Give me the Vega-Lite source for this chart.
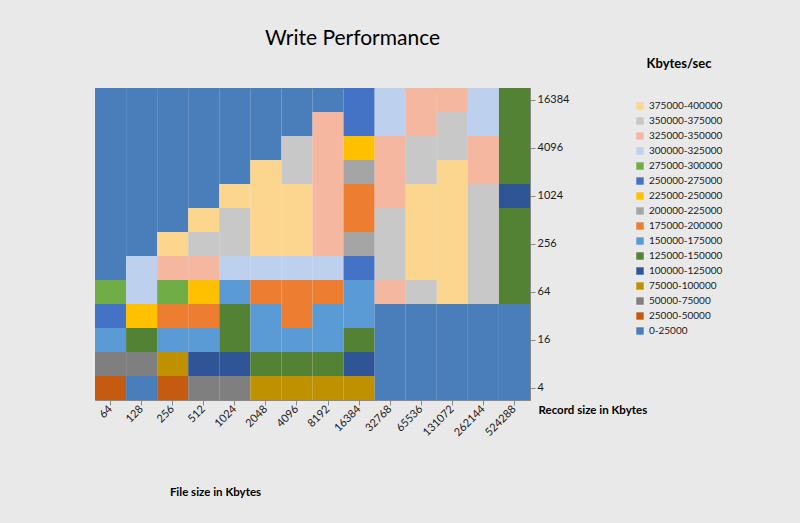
{
  "$schema": "https://vega.github.io/schema/vega-lite/v6.json",
  "autosize": "none",
  "width": 435,
  "height": 312,
  "padding": {"left": 95, "top": 88, "right": 270, "bottom": 123},
  "background": "#e9e9e9",
  "title": {
    "text": "Write Performance",
    "fontSize": 21,
    "fontWeight": "normal",
    "font": "Lato",
    "color": "#000000",
    "dx": 40,
    "offset": 3
  },
  "data": {
    "values": [
      {"file": 64, "rec": 4, "kbs": 25000}, {"file": 128, "rec": 4, "kbs": 8000}, {"file": 256, "rec": 4, "kbs": 45000}, {"file": 512, "rec": 4, "kbs": 60000}, {"file": 1024, "rec": 4, "kbs": 70000}, {"file": 2048, "rec": 4, "kbs": 80000}, {"file": 4096, "rec": 4, "kbs": 85000}, {"file": 8192, "rec": 4, "kbs": 90000}, {"file": 16384, "rec": 4, "kbs": 95000}, {"file": 32768, "rec": 4, "kbs": 0}, {"file": 65536, "rec": 4, "kbs": 0}, {"file": 131072, "rec": 4, "kbs": 0}, {"file": 262144, "rec": 4, "kbs": 0}, {"file": 524288, "rec": 4, "kbs": 0},
      {"file": 64, "rec": 8, "kbs": 60000}, {"file": 128, "rec": 8, "kbs": 50000}, {"file": 256, "rec": 8, "kbs": 95000}, {"file": 512, "rec": 8, "kbs": 110000}, {"file": 1024, "rec": 8, "kbs": 115000}, {"file": 2048, "rec": 8, "kbs": 125000}, {"file": 4096, "rec": 8, "kbs": 130000}, {"file": 8192, "rec": 8, "kbs": 125000}, {"file": 16384, "rec": 8, "kbs": 120000}, {"file": 32768, "rec": 8, "kbs": 0}, {"file": 65536, "rec": 8, "kbs": 0}, {"file": 131072, "rec": 8, "kbs": 0}, {"file": 262144, "rec": 8, "kbs": 0}, {"file": 524288, "rec": 8, "kbs": 0},
      {"file": 64, "rec": 16, "kbs": 160000}, {"file": 128, "rec": 16, "kbs": 140000}, {"file": 256, "rec": 16, "kbs": 155000}, {"file": 512, "rec": 16, "kbs": 170000}, {"file": 1024, "rec": 16, "kbs": 135000}, {"file": 2048, "rec": 16, "kbs": 155000}, {"file": 4096, "rec": 16, "kbs": 165000}, {"file": 8192, "rec": 16, "kbs": 160000}, {"file": 16384, "rec": 16, "kbs": 145000}, {"file": 32768, "rec": 16, "kbs": 0}, {"file": 65536, "rec": 16, "kbs": 0}, {"file": 131072, "rec": 16, "kbs": 0}, {"file": 262144, "rec": 16, "kbs": 0}, {"file": 524288, "rec": 16, "kbs": 0},
      {"file": 64, "rec": 32, "kbs": 255000}, {"file": 128, "rec": 32, "kbs": 230000}, {"file": 256, "rec": 32, "kbs": 190000}, {"file": 512, "rec": 32, "kbs": 175000}, {"file": 1024, "rec": 32, "kbs": 145000}, {"file": 2048, "rec": 32, "kbs": 165000}, {"file": 4096, "rec": 32, "kbs": 175000}, {"file": 8192, "rec": 32, "kbs": 170000}, {"file": 16384, "rec": 32, "kbs": 155000}, {"file": 32768, "rec": 32, "kbs": 0}, {"file": 65536, "rec": 32, "kbs": 0}, {"file": 131072, "rec": 32, "kbs": 0}, {"file": 262144, "rec": 32, "kbs": 0}, {"file": 524288, "rec": 32, "kbs": 0},
      {"file": 64, "rec": 64, "kbs": 290000}, {"file": 128, "rec": 64, "kbs": 305000}, {"file": 256, "rec": 64, "kbs": 285000}, {"file": 512, "rec": 64, "kbs": 240000}, {"file": 1024, "rec": 64, "kbs": 165000}, {"file": 2048, "rec": 64, "kbs": 175000}, {"file": 4096, "rec": 64, "kbs": 185000}, {"file": 8192, "rec": 64, "kbs": 180000}, {"file": 16384, "rec": 64, "kbs": 170000}, {"file": 32768, "rec": 64, "kbs": 340000}, {"file": 65536, "rec": 64, "kbs": 365000}, {"file": 131072, "rec": 64, "kbs": 375000}, {"file": 262144, "rec": 64, "kbs": 355000}, {"file": 524288, "rec": 64, "kbs": 135000},
      {"file": 64, "rec": 128, "kbs": 0}, {"file": 128, "rec": 128, "kbs": 320000}, {"file": 256, "rec": 128, "kbs": 340000}, {"file": 512, "rec": 128, "kbs": 330000}, {"file": 1024, "rec": 128, "kbs": 300000}, {"file": 2048, "rec": 128, "kbs": 310000}, {"file": 4096, "rec": 128, "kbs": 320000}, {"file": 8192, "rec": 128, "kbs": 300000}, {"file": 16384, "rec": 128, "kbs": 250000}, {"file": 32768, "rec": 128, "kbs": 355000}, {"file": 65536, "rec": 128, "kbs": 380000}, {"file": 131072, "rec": 128, "kbs": 390000}, {"file": 262144, "rec": 128, "kbs": 365000}, {"file": 524288, "rec": 128, "kbs": 140000},
      {"file": 64, "rec": 256, "kbs": 0}, {"file": 128, "rec": 256, "kbs": 0}, {"file": 256, "rec": 256, "kbs": 385000}, {"file": 512, "rec": 256, "kbs": 360000}, {"file": 1024, "rec": 256, "kbs": 365000}, {"file": 2048, "rec": 256, "kbs": 380000}, {"file": 4096, "rec": 256, "kbs": 375000}, {"file": 8192, "rec": 256, "kbs": 330000}, {"file": 16384, "rec": 256, "kbs": 210000}, {"file": 32768, "rec": 256, "kbs": 360000}, {"file": 65536, "rec": 256, "kbs": 390000}, {"file": 131072, "rec": 256, "kbs": 395000}, {"file": 262144, "rec": 256, "kbs": 370000}, {"file": 524288, "rec": 256, "kbs": 130000},
      {"file": 64, "rec": 512, "kbs": 0}, {"file": 128, "rec": 512, "kbs": 0}, {"file": 256, "rec": 512, "kbs": 0}, {"file": 512, "rec": 512, "kbs": 375000}, {"file": 1024, "rec": 512, "kbs": 370000}, {"file": 2048, "rec": 512, "kbs": 392000}, {"file": 4096, "rec": 512, "kbs": 385000}, {"file": 8192, "rec": 512, "kbs": 340000}, {"file": 16384, "rec": 512, "kbs": 180000}, {"file": 32768, "rec": 512, "kbs": 350000}, {"file": 65536, "rec": 512, "kbs": 385000}, {"file": 131072, "rec": 512, "kbs": 392000}, {"file": 262144, "rec": 512, "kbs": 362000}, {"file": 524288, "rec": 512, "kbs": 125000},
      {"file": 64, "rec": 1024, "kbs": 0}, {"file": 128, "rec": 1024, "kbs": 0}, {"file": 256, "rec": 1024, "kbs": 0}, {"file": 512, "rec": 1024, "kbs": 0}, {"file": 1024, "rec": 1024, "kbs": 378000}, {"file": 2048, "rec": 1024, "kbs": 385000}, {"file": 4096, "rec": 1024, "kbs": 380000}, {"file": 8192, "rec": 1024, "kbs": 345000}, {"file": 16384, "rec": 1024, "kbs": 195000}, {"file": 32768, "rec": 1024, "kbs": 345000}, {"file": 65536, "rec": 1024, "kbs": 380000}, {"file": 131072, "rec": 1024, "kbs": 385000}, {"file": 262144, "rec": 1024, "kbs": 350000}, {"file": 524288, "rec": 1024, "kbs": 120000},
      {"file": 64, "rec": 2048, "kbs": 0}, {"file": 128, "rec": 2048, "kbs": 0}, {"file": 256, "rec": 2048, "kbs": 0}, {"file": 512, "rec": 2048, "kbs": 0}, {"file": 1024, "rec": 2048, "kbs": 0}, {"file": 2048, "rec": 2048, "kbs": 380000}, {"file": 4096, "rec": 2048, "kbs": 372000}, {"file": 8192, "rec": 2048, "kbs": 340000}, {"file": 16384, "rec": 2048, "kbs": 220000}, {"file": 32768, "rec": 2048, "kbs": 338000}, {"file": 65536, "rec": 2048, "kbs": 372000}, {"file": 131072, "rec": 2048, "kbs": 375000}, {"file": 262144, "rec": 2048, "kbs": 340000}, {"file": 524288, "rec": 2048, "kbs": 125000},
      {"file": 64, "rec": 4096, "kbs": 0}, {"file": 128, "rec": 4096, "kbs": 0}, {"file": 256, "rec": 4096, "kbs": 0}, {"file": 512, "rec": 4096, "kbs": 0}, {"file": 1024, "rec": 4096, "kbs": 0}, {"file": 2048, "rec": 4096, "kbs": 0}, {"file": 4096, "rec": 4096, "kbs": 365000}, {"file": 8192, "rec": 4096, "kbs": 335000}, {"file": 16384, "rec": 4096, "kbs": 240000}, {"file": 32768, "rec": 4096, "kbs": 330000}, {"file": 65536, "rec": 4096, "kbs": 360000}, {"file": 131072, "rec": 4096, "kbs": 362000}, {"file": 262144, "rec": 4096, "kbs": 325000}, {"file": 524288, "rec": 4096, "kbs": 130000},
      {"file": 64, "rec": 8192, "kbs": 0}, {"file": 128, "rec": 8192, "kbs": 0}, {"file": 256, "rec": 8192, "kbs": 0}, {"file": 512, "rec": 8192, "kbs": 0}, {"file": 1024, "rec": 8192, "kbs": 0}, {"file": 2048, "rec": 8192, "kbs": 0}, {"file": 4096, "rec": 8192, "kbs": 0}, {"file": 8192, "rec": 8192, "kbs": 325000}, {"file": 16384, "rec": 8192, "kbs": 255000}, {"file": 32768, "rec": 8192, "kbs": 320000}, {"file": 65536, "rec": 8192, "kbs": 345000}, {"file": 131072, "rec": 8192, "kbs": 350000}, {"file": 262144, "rec": 8192, "kbs": 315000}, {"file": 524288, "rec": 8192, "kbs": 135000},
      {"file": 64, "rec": 16384, "kbs": 0}, {"file": 128, "rec": 16384, "kbs": 0}, {"file": 256, "rec": 16384, "kbs": 0}, {"file": 512, "rec": 16384, "kbs": 0}, {"file": 1024, "rec": 16384, "kbs": 0}, {"file": 2048, "rec": 16384, "kbs": 0}, {"file": 4096, "rec": 16384, "kbs": 0}, {"file": 8192, "rec": 16384, "kbs": 0}, {"file": 16384, "rec": 16384, "kbs": 265000}, {"file": 32768, "rec": 16384, "kbs": 310000}, {"file": 65536, "rec": 16384, "kbs": 335000}, {"file": 131072, "rec": 16384, "kbs": 340000}, {"file": 262144, "rec": 16384, "kbs": 305000}, {"file": 524288, "rec": 16384, "kbs": 140000}
    ]
  },
  "transform": [
    {"bin": {"step": 25000, "extent": [0, 400000]}, "field": "kbs", "as": ["lo", "hi"]}
  ],
  "mark": {"type": "rect"},
  "encoding": {
    "x": {
      "field": "file",
      "type": "ordinal",
      "sort": "ascending",
      "axis": {
        "title": "File size in Kbytes",
        "labelAngle": -45,
        "labelAlign": "right",
        "labelBaseline": "middle",
        "labelFontSize": 11,
        "titleFontSize": 11.5,
        "titleX": 120,
        "titleY": 86,
        "domainColor": "#888888",
        "tickColor": "#888888"
      }
    },
    "y": {
      "field": "rec",
      "type": "ordinal",
      "sort": "descending",
      "axis": {
        "orient": "right",
        "title": "Record size in Kbytes",
        "values": [4, 16, 64, 256, 1024, 4096, 16384],
        "labelFontSize": 11,
        "titleFontSize": 11.5,
        "titleAngle": 0,
        "titleAlign": "left",
        "titleBaseline": "middle",
        "titleX": 8,
        "titleY": 322,
        "domainColor": "#888888",
        "tickColor": "#888888"
      }
    },
    "color": {
      "field": "lo",
      "type": "ordinal",
      "scale": {
        "domain": [375000, 350000, 325000, 300000, 275000, 250000, 225000, 200000, 175000, 150000, 125000, 100000, 75000, 50000, 25000, 0],
        "range": ["#fcd68f", "#c8c8c8", "#f5b7a0", "#bdd0ee", "#70ad47", "#4472c4", "#ffc000", "#a5a5a5", "#ed7d31", "#5b9bd5", "#548235", "#2f5597", "#bf9000", "#7f7f7f", "#c55a11", "#4a7ebb"]
      },
      "legend": {
        "title": "Kbytes/sec",
        "orient": "none",
        "legendX": 534,
        "legendY": -36,
        "titleFontSize": 13,
        "titleFontWeight": "bold",
        "titleAnchor": "middle",
        "titlePadding": 30,
        "labelFontSize": 10,
        "labelColor": "#1a1a1a",
        "symbolType": "square",
        "symbolSize": 55,
        "symbolStrokeWidth": 0,
        "rowPadding": 5,
        "padding": 6,
        "labelExpr": "datum.label + '-' + (datum.value + 25000)"
      }
    },
    "tooltip": [
      {"field": "file", "type": "ordinal", "title": "File size (KB)"},
      {"field": "rec", "type": "ordinal", "title": "Record size (KB)"},
      {"field": "kbs", "type": "quantitative", "title": "Kbytes/sec"}
    ]
  },
  "config": {
    "font": "Lato",
    "axis": {"labelColor": "#1a1a1a", "titleColor": "#000000", "titleFontWeight": "bold", "grid": false},
    "legend": {"titleColor": "#000000"},
    "view": {"stroke": "#888888"}
  }
}
